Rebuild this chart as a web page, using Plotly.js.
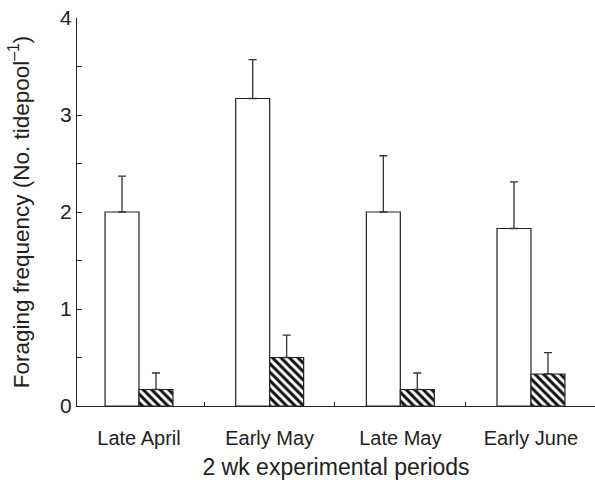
<!DOCTYPE html>
<html>
<head>
<meta charset="utf-8">
<script src="https://cdn.plot.ly/plotly-3.0.1.min.js"></script>
<style>html,body{margin:0;padding:0;background:#fff;}#chart{width:595px;height:480px;}</style>
</head>
<body>
<div id="chart"></div>
<script>
const categories = ["Late April", "Early May", "Late May", "Early June"];
const openValues = [2.0, 3.17, 2.0, 1.83];
const openErrors = [0.37, 0.40, 0.58, 0.48];
const hatchedValues = [0.17, 0.5, 0.17, 0.33];
const hatchedErrors = [0.17, 0.23, 0.17, 0.22];
const yTickVals = [0, 1, 2, 3, 4];
const yTickText = ["0", "1", "2", "3", "4"];

const zeros = categories.map(() => 0);
const font = {family: "Liberation Sans, Arial, sans-serif", color: "#222"};

const traces = [
  {
    type: "bar", x: categories, y: openValues,
    marker: {color: "#ffffff", line: {color: "#222", width: 1.2}},
    error_y: {type: "data", symmetric: false, array: openErrors, arrayminus: zeros,
              color: "#333", thickness: 1.3, width: 4},
    showlegend: false
  },
  {
    type: "bar", x: categories, y: hatchedValues,
    marker: {color: "#ffffff", line: {color: "#222", width: 1.2},
             pattern: {shape: "\\", fgcolor: "#111", bgcolor: "#ffffff", size: 6, solidity: 0.5}},
    error_y: {type: "data", symmetric: false, array: hatchedErrors, arrayminus: zeros,
              color: "#333", thickness: 1.3, width: 4},
    showlegend: false
  }
];

const layout = {
  width: 595, height: 480,
  margin: {l: 77, r: 0, t: 18, b: 74},
  paper_bgcolor: "#fff", plot_bgcolor: "#fff",
  barmode: "group", bargap: 0.48, bargroupgap: 0,
  font: font,
  xaxis: {
    type: "category", range: [-0.4745, 3.49],
    showline: true, linecolor: "#222", linewidth: 1.2,
    ticks: "inside", tickson: "boundaries", ticklen: 4, tickcolor: "#222", tickwidth: 1,
    ticklabelstandoff: 14,
    showgrid: false, zeroline: false,
    tickfont: {size: 20, family: font.family, color: "#222"},
    title: {text: "2 wk experimental periods", font: {size: 23, family: font.family, color: "#222"}, standoff: 10}
  },
  yaxis: {
    range: [0, 4],
    tickvals: yTickVals, ticktext: yTickText,
    showline: true, linecolor: "#222", linewidth: 1.2,
    ticks: "inside", ticklen: 5, tickcolor: "#222", tickwidth: 1,
    minor: {dtick: 0.5, ticks: "inside", ticklen: 5, tickcolor: "#222", tickwidth: 1, showgrid: false},
    showgrid: false, zeroline: false,
    tickfont: {size: 21, family: font.family, color: "#222"},
    title: {text: "Foraging frequency (No. tidepool<sup>–1</sup>)", font: {size: 22.5, family: font.family, color: "#222"}, standoff: 24}
  }
};

Plotly.newPlot("chart", traces, layout, {displayModeBar: false, staticPlot: true});
</script>
</body>
</html>
